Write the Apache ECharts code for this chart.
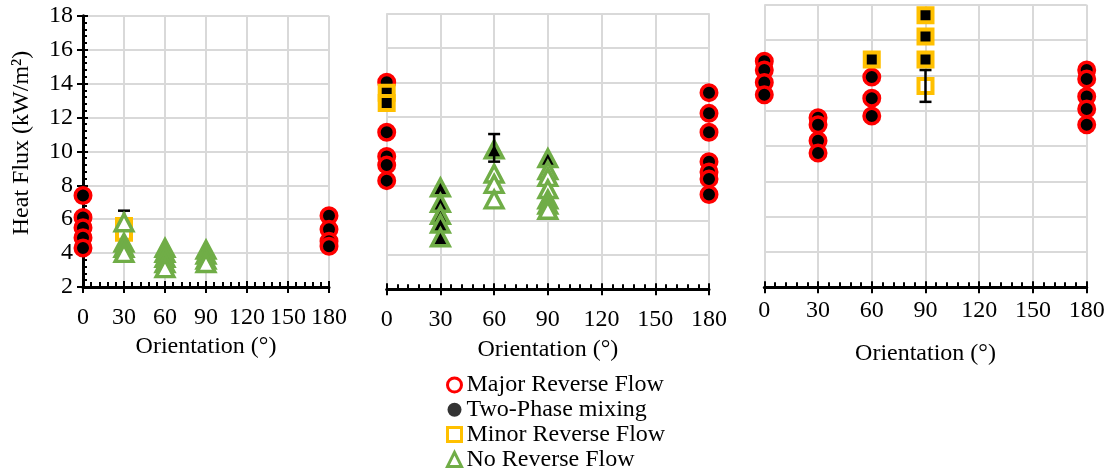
<!DOCTYPE html>
<html>
<head>
<meta charset="utf-8">
<script src="https://cdn.jsdelivr.net/npm/echarts@6/dist/echarts.min.js"></script>
<style>
html,body{margin:0;padding:0;background:#fff;}
#chart{width:1112px;height:472px;}
</style>
</head>
<body>
<div id="chart"></div>
<script>
// ---------- data (x = orientation °, y = heat flux kW/m², third value 1 = two-phase mixing) ----------
const xTicks = [0, 30, 60, 90, 120, 150, 180];
const seriesNames = ['Major Reverse Flow', 'Two-Phase mixing', 'Minor Reverse Flow', 'No Reverse Flow'];
const yAxisTitle = 'Heat Flux (kW/m²)';
const xAxisTitle = 'Orientation (°)';

// panel 1 (left)
const p1Major = [[0,7.4,1],[0,6.1,1],[0,5.5,1],[0,4.9,1],[0,4.3,1],[180,6.2,1],[180,5.4,1],[180,4.7,1],[180,4.4,1]];
const p1Minor = [[30,5.6,0],[30,5.2,0]];
const p1None  = [[30,5.8,0],[30,4.6,0],[30,4.3,0],[30,4.0,0],
                 [60,4.3,0],[60,4.0,0],[60,3.7,0],[60,3.4,0],[60,3.1,0],
                 [90,4.2,0],[90,3.9,0],[90,3.6,0],[90,3.4,0]];
const p1Err   = [[30,5.6,6.5]];

// panel 2 (middle)
const p2Major = [[0,14.0,1],[0,11.1,1],[0,9.7,1],[0,9.2,1],[0,8.3,1],
                 [180,13.4,1],[180,12.2,1],[180,11.1,1],[180,9.4,1],[180,8.8,1],[180,8.4,1],[180,7.5,1]];
const p2Minor = [[0,13.4,1],[0,12.8,1]];
const p2None  = [[30,7.9,1],[30,7.0,1],[30,6.3,1],[30,5.8,1],[30,5.0,1],
                 [60,10.1,1],[60,8.7,0],[60,8.1,0],[60,7.2,0],
                 [90,9.6,1],[90,8.9,0],[90,8.5,0],[90,7.8,0],[90,7.2,0],[90,6.9,0],[90,6.6,0]];
const p2Err   = [[60,9.4,11.0]];

// panel 3 (right)
const p3Major = [[0,14.8,1],[0,14.3,1],[0,13.6,1],[0,12.9,1],
                 [30,11.6,1],[30,11.2,1],[30,10.3,1],[30,9.6,1],
                 [60,13.9,1],[60,12.7,1],[60,11.7,1],
                 [180,14.3,1],[180,13.8,1],[180,12.8,1],[180,12.1,1],[180,11.2,1]];
const p3Minor = [[60,14.9,1],[90,17.4,1],[90,16.2,1],[90,14.9,1],[90,13.4,0]];
const p3None  = [];
const p3Err   = [[90,12.5,14.3]];

// ---------- styling ----------
const FONT = 'Liberation Serif';
const RED = '#ff0000', YEL = '#ffc000', GRN = '#70ad47', GRID = '#d9d9d9';

const panels = [
  {major:p1Major, minor:p1Minor, none:p1None, err:p1Err, errZ:9, grid:{left:83, top:15.7, width:246, height:271.3}, yLabels:true, labelMargin:19, nameGap:47},
  {major:p2Major, minor:p2Minor, none:p2None, err:p2Err, errZ:20, grid:{left:386.7, top:13.3, width:322.3, height:276}, yLabels:false, labelMargin:18, nameGap:48},
  {major:p3Major, minor:p3Minor, none:p3None, err:p3Err, errZ:20, grid:{left:764.3, top:4.7, width:322.4, height:282.6}, yLabels:false, labelMargin:11, nameGap:54}
];

function items(arr) {
  return arr.map(d => ({value:[d[0], d[1]], itemStyle:{color: d[2] ? '#000' : '#fff'}}));
}

const grids = [], xAxes = [], yAxes = [], series = [];
panels.forEach((p, i) => {
  grids.push(Object.assign({containLabel:false}, p.grid));
  xAxes.push({
    type:'value', gridIndex:i, min:0, max:180, interval:30, position:'bottom',
    name: xAxisTitle, nameLocation:'middle', nameGap:p.nameGap,
    nameTextStyle:{fontFamily:FONT, fontSize:24, color:'#000'},
    axisLine:{show:true, onZero:false, lineStyle:{color:'#000', width:3}},
    axisTick:{show:true, inside:true, length:6, lineStyle:{color:'#000', width:2}},
    minorTick:{show:true, splitNumber:5, length:5, lineStyle:{color:'#000', width:2}},
    axisLabel:{show:true, margin:p.labelMargin, fontFamily:FONT, fontSize:24, color:'#000',
               formatter: v => xTicks.indexOf(v) >= 0 ? String(v) : ''},
    splitLine:{show:true, lineStyle:{color:GRID, width:2}},
    z:5
  });
  xAxes.push({
    type:'value', gridIndex:i, min:0, max:180, interval:30, position:'bottom',
    axisLine:{show:false}, axisLabel:{show:false}, splitLine:{show:false},
    axisTick:{show:true, inside:false, length:6, lineStyle:{color:'#000', width:2}},
    z:5
  });
  yAxes.push({
    type:'value', gridIndex:i, min:2, max:18, interval:2, position:'left',
    axisLine:{show:p.yLabels, onZero:false, lineStyle:{color:'#000', width:3}},
    axisTick:{show:p.yLabels, inside:true, length:5, lineStyle:{color:'#000', width:2}},
    minorTick:{show:p.yLabels, splitNumber:5, length:4, lineStyle:{color:'#000', width:2}},
    axisLabel:{show:p.yLabels, margin:10, fontFamily:FONT, fontSize:24, color:'#000'},
    splitLine:{show:true, lineStyle:{color:GRID, width:2}},
    z:5
  });
  yAxes.push({
    type:'value', gridIndex:i, min:2, max:18, interval:2, position:'left',
    axisLine:{show:false}, axisLabel:{show:false}, splitLine:{show:false},
    axisTick:{show:p.yLabels, inside:false, length:6, lineStyle:{color:'#000', width:2}},
    z:5
  });
  const xi = i*2, yi = i*2;
  series.push({
    name:seriesNames[0], type:'scatter', xAxisIndex:xi, yAxisIndex:yi,
    symbol:'circle', symbolSize:15.5, z:10,
    itemStyle:{color:'#fff', borderColor:RED, borderWidth:3.5, opacity:1},
    emphasis:{disabled:true}, data:items(p.major)
  });
  series.push({
    name:seriesNames[1], type:'scatter', xAxisIndex:xi, yAxisIndex:yi,
    symbol:'circle', symbolSize:11, itemStyle:{color:'#000'}, data:[]
  });
  series.push({
    name:seriesNames[2], type:'scatter', xAxisIndex:xi, yAxisIndex:yi,
    symbol:'rect', symbolSize:14, z:11,
    itemStyle:{color:'#fff', borderColor:YEL, borderWidth:4, opacity:1},
    emphasis:{disabled:true}, data:items(p.minor)
  });
  series.push({
    name:seriesNames[3], type:'scatter', xAxisIndex:xi, yAxisIndex:yi,
    symbol:'triangle', symbolSize:[17.5,16.5], z:12,
    itemStyle:{color:'#fff', borderColor:GRN, borderWidth:3.5, opacity:1},
    emphasis:{disabled:true}, data:items(p.none)
  });
  series.push({
    type:'custom', xAxisIndex:xi, yAxisIndex:yi, z:p.errZ, silent:true,
    encode:{x:0, y:[1,2]},
    renderItem:function(params, api){
      const x = api.value(0), lo = api.value(1), hi = api.value(2);
      const a = api.coord([x, lo]), b = api.coord([x, hi]);
      const w = 6;
      const st = {stroke:'#000', lineWidth:2.5};
      return {type:'group', children:[
        {type:'line', shape:{x1:a[0], y1:a[1], x2:b[0], y2:b[1]}, style:st},
        {type:'line', shape:{x1:a[0]-w, y1:a[1], x2:a[0]+w, y2:a[1]}, style:st},
        {type:'line', shape:{x1:b[0]-w, y1:b[1], x2:b[0]+w, y2:b[1]}, style:st}
      ]};
    },
    data:p.err
  });
});

const chart = echarts.init(document.getElementById('chart'), null, {renderer:'canvas'});
chart.setOption({
  backgroundColor:'#fff',
  animation:false,
  grid:grids, xAxis:xAxes, yAxis:yAxes, series:series,
  legend:{
    orient:'vertical', left:446, top:373, padding:0, itemGap:0.8, itemWidth:14, itemHeight:14,
    height:110, selectedMode:false,
    textStyle:{fontFamily:FONT, fontSize:24, color:'#000', lineHeight:22},
    data:[
      {name:seriesNames[0], icon:'circle', itemStyle:{color:'#fff', borderColor:RED, borderWidth:3}},
      {name:seriesNames[1], icon:'circle', itemStyle:{color:'#000', borderWidth:0}},
      {name:seriesNames[2], icon:'rect', itemStyle:{color:'#fff', borderColor:YEL, borderWidth:3}},
      {name:seriesNames[3], icon:'triangle', itemStyle:{color:'#fff', borderColor:GRN, borderWidth:3}}
    ]
  },
  graphic:[{
    type:'text', x:22, y:143, rotation:Math.PI/2,
    style:{text:yAxisTitle, fontFamily:FONT, fontSize:24, fill:'#000', align:'center', verticalAlign:'middle'}
  }]
});
</script>
</body>
</html>
